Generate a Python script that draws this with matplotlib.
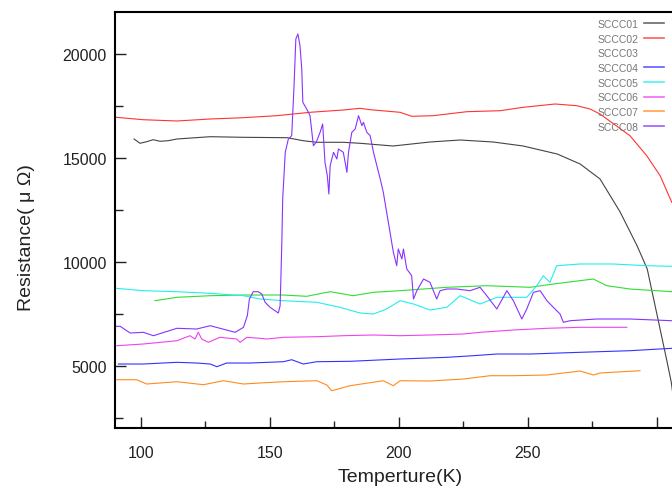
import matplotlib
matplotlib.use('Agg')
import matplotlib.pyplot as plt
from matplotlib.ticker import MultipleLocator, FixedLocator, FixedFormatter
from matplotlib.lines import Line2D

plt.rcParams['font.family'] = ['Liberation Sans', 'DejaVu Sans']

# SCCC01
t01 = [97.4, 99.7, 102.3, 104.8, 107.5, 110.6, 114.0, 126.9, 139.7, 156.7, 162.9, 168.2,
       178.4, 185.0, 197.8, 212.1, 223.8, 236.6, 248.2, 261.4, 270.3, 278.0, 285.8,
       292.4, 296.3, 298.2, 300.2, 302.1, 304.0, 305.6, 306.5]
r01 = [15913, 15707, 15784, 15880, 15803, 15832, 15913, 16024, 15995, 15976, 15832, 15755,
       15755, 15707, 15577, 15769, 15865, 15769, 15577, 15192, 14711, 13990, 12403,
       10769, 9663, 8557, 7403, 6297, 5192, 4230, 3400]
# SCCC02
t02 = [90.4, 100.9, 114.0, 126.9, 139.7, 152.7, 165.6, 178.4, 185.0, 188.9, 200.5, 205.0,
       213.3, 226.4, 239.3, 248.2, 260.6, 269.0, 274.1, 278.0, 289.6, 296.1, 301.3, 305.8]
r02 = [16957, 16841, 16779, 16875, 16937, 17034, 17197, 17307, 17389, 17322, 17197, 17005,
       17034, 17226, 17274, 17437, 17596, 17514, 17356, 17115, 16072, 15110, 14149, 12870]
# SCCC03
t03 = [105.5, 114.0, 126.9, 139.8, 155.2, 164.3, 173.4, 182.3, 190.2, 200.5, 218.6, 234.1,
       250.9, 260.0, 275.4, 280.6, 289.6, 305.9]
r03 = [8139, 8302, 8379, 8413, 8413, 8350, 8572, 8379, 8543, 8620, 8783, 8860,
       8783, 8942, 9182, 8860, 8701, 8572]
# SCCC04
t04 = [91.3, 101.0, 114.0, 121.7, 126.9, 129.5, 133.3, 142.4, 155.3, 158.5, 163.0, 168.2,
       181.1, 200.5, 218.6, 228.9, 238.0, 250.9, 270.3, 289.6, 305.8]
r04 = [5095, 5095, 5177, 5143, 5095, 4966, 5143, 5143, 5206, 5302, 5095, 5206,
       5225, 5336, 5417, 5495, 5576, 5576, 5658, 5735, 5850]
# SCCC05
t05 = [90.4, 101.0, 114.0, 126.9, 139.8, 146.2, 155.2, 168.2, 177.2, 185.0, 190.2, 195.3,
       200.5, 205.7, 212.1, 218.6, 223.8, 231.5, 238.0, 244.4, 249.6, 253.5, 256.0,
       258.6, 261.2, 270.3, 283.1, 296.1, 305.8]
r05 = [8735, 8620, 8572, 8495, 8379, 8220, 8139, 8062, 7822, 7547, 7499, 7740,
       8139, 7980, 7692, 7822, 8379, 7980, 8302, 8302, 8302, 8860, 9340,
       9023, 9822, 9904, 9904, 9822, 9793]
# SCCC06
t06 = [90.7, 101.0, 114.0, 119.1, 121.0, 122.3, 123.6, 126.2, 130.7, 137.2, 138.5, 141.1,
       146.2, 148.8, 155.3, 168.2, 178.5, 190.2, 200.5, 212.1, 225.0, 231.5, 244.4,
       257.4, 270.3, 288.4]
r06 = [5975, 6057, 6215, 6456, 6297, 6619, 6297, 6138, 6379, 6297, 6138, 6379,
       6331, 6297, 6379, 6408, 6456, 6490, 6456, 6490, 6538, 6619, 6730,
       6812, 6860, 6860]
# SCCC07
t07 = [90.7, 98.4, 102.3, 114.0, 124.3, 132.0, 139.8, 146.2, 155.3, 168.2, 172.1, 174.0,
       181.1, 194.0, 197.9, 200.5, 212.1, 225.0, 235.4, 244.4, 257.4, 270.3, 275.4,
       278.0, 293.5]
r07 = [4340, 4340, 4134, 4244, 4100, 4292, 4134, 4182, 4244, 4292, 4086, 3811,
       4052, 4292, 4052, 4292, 4278, 4374, 4533, 4533, 4567, 4759, 4567,
       4663, 4773]
# SCCC08
t08 = [90.1, 92.0, 95.9, 101.0, 104.9, 114.0, 121.7, 126.9, 130.7, 136.6, 139.8, 141.3,
       142.1, 143.6, 145.5, 146.9, 148.2, 150.1, 153.3, 154.0, 154.3, 154.7, 155.0,
       156.0, 157.2, 158.5, 159.4, 160.1, 160.9, 161.7, 162.4, 162.8, 164.3, 165.6,
       166.9, 168.0, 169.5, 170.5, 171.4, 172.3, 172.9, 173.4, 174.7, 176.0, 176.6,
       178.5, 179.9, 180.5, 181.8, 183.1, 184.4, 185.7, 186.3, 187.6, 188.9, 190.2,
       191.5, 192.8, 194.0, 195.3, 196.6, 197.9, 199.2, 199.8, 201.2, 201.8, 203.1,
       205.0, 205.7, 207.0, 209.6, 212.1, 214.7, 216.0, 218.6, 222.5, 227.6, 231.5,
       234.1, 238.0, 241.9, 244.4, 247.7, 249.6, 252.2, 254.8, 257.4, 259.9, 262.5,
       263.8, 266.4, 276.7, 289.6, 305.8]
r08 = [6908, 6908, 6586, 6619, 6456, 6812, 6778, 6937, 6812, 6619, 6859, 7418,
       8220, 8572, 8572, 8461, 8062, 7822, 7547, 7899, 9182, 11106, 13028,
       15274, 15913, 16072, 18476, 20721, 20962, 20399, 19279, 17678, 17356, 17034,
       15591, 15755, 16235, 16634, 14793, 14149, 13269, 14630, 15274, 14952, 15433,
       15274, 14312, 15274, 16235, 16394, 17034, 16553, 16716, 16235, 16072, 15274,
       14630, 13990, 13351, 12389, 11428, 10466, 9822, 10625, 10144, 10625, 9663,
       9341, 8220, 8620, 9182, 9023, 8220, 8620, 8701, 8701, 8620, 8783,
       8379, 7740, 8620, 8139, 7259, 7740, 8543, 8620, 8139, 7822, 7499,
       7099, 7177, 7259, 7259, 7177]

labels = ['SCCC01', 'SCCC02', 'SCCC03', 'SCCC04', 'SCCC05', 'SCCC06', 'SCCC07', 'SCCC08']
colors = ['#444444', '#ff3333', '#33dd33', '#3333ff', '#22eeee', '#ee44ee', '#ff8c1a', '#8833ff']
xticks = [100, 150, 200, 250, 300]
xticklabels = ['100', '150', '200', '250', '']

fig = plt.figure(figsize=(6.72, 4.89), dpi=100)
# the right part of the plot is cut off by the picture edge
ax = fig.add_axes([0.1711, 0.1219, 0.8485, 0.8507])

series = [(t01, r01), (t02, r02), (t03, r03), (t04, r04),
          (t05, r05), (t06, r06), (t07, r07), (t08, r08)]
for (t, r), c in zip(series, colors):
    ax.plot(t, r, color=c, lw=0.8)

ax.set_xlim(90, 311)
ax.set_ylim(2000, 22000)
ax.xaxis.set_major_locator(FixedLocator(xticks))
ax.xaxis.set_major_formatter(FixedFormatter(xticklabels))
ax.xaxis.set_minor_locator(MultipleLocator(25))
ax.yaxis.set_major_locator(MultipleLocator(5000))
ax.yaxis.set_minor_locator(MultipleLocator(2500))
ax.tick_params(which='both', direction='in', colors='#222222', labelcolor='#222222')
ax.tick_params(axis='y', which='major', length=8, width=1, pad=6, labelsize=11.5)
ax.tick_params(axis='y', which='minor', length=6, width=1)
ax.tick_params(axis='x', which='major', length=8, width=1, pad=12, labelsize=11.5)
ax.tick_params(axis='x', which='minor', length=5, width=1)
for s in ax.spines.values():
    s.set_linewidth(1.5)

ax.set_xlabel('Temperture(K)', fontsize=14, color='#222222', labelpad=6)
ax.set_ylabel('Resistance( μ Ω)', fontsize=14, color='#222222')
ax.yaxis.set_label_coords(-0.14, 0.46)

handles = []
for i, c in enumerate(colors):
    if i == 2:
        handles.append(Line2D([], [], color=c, lw=0))  # no line shown for 03
    else:
        handles.append(Line2D([], [], color=c, lw=1.2, alpha=0.8))
fig.legend(handles, labels, loc='upper right', bbox_to_anchor=(0.995, 0.968),
           frameon=False, markerfirst=False, fontsize=7.5, labelcolor='#777777',
           handlelength=2.0, handletextpad=0.5, labelspacing=0.45, borderaxespad=0)

fig.savefig('out.png', dpi=100)
